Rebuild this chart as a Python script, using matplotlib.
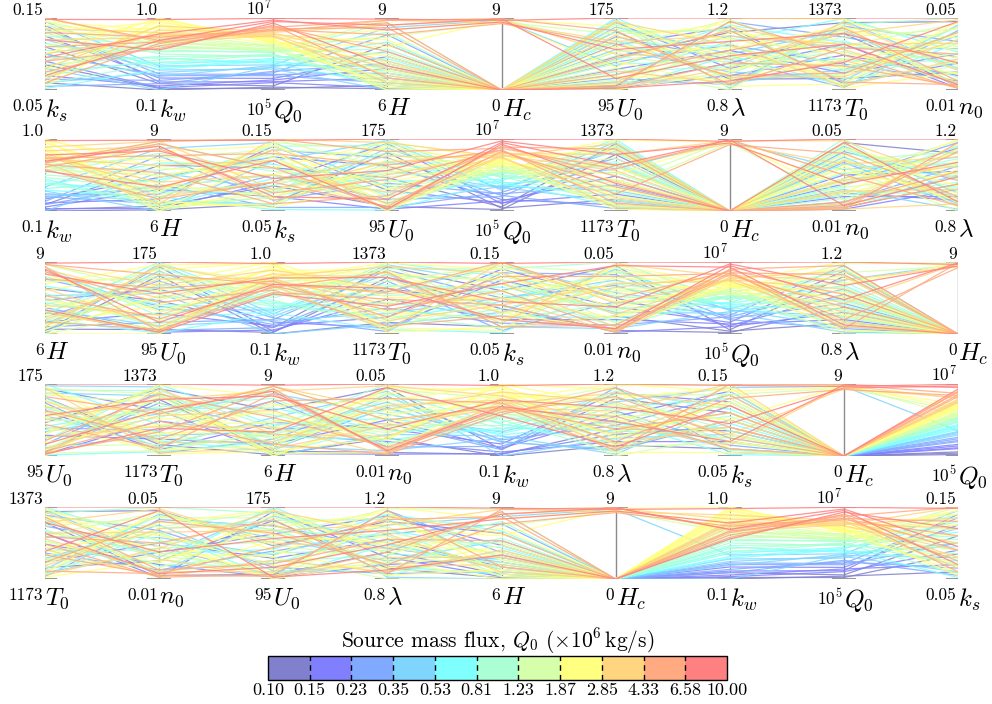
import numpy as np
import matplotlib
matplotlib.use("Agg")
import matplotlib.pyplot as plt
from matplotlib.colors import ListedColormap, BoundaryNorm
import matplotlib.colorbar as mcolorbar

plt.rcParams['font.family'] = 'cmr10'
plt.rcParams['mathtext.fontset'] = 'cm'
plt.rcParams['axes.formatter.use_mathtext'] = True

# samples (one entry per line), Q0 in 10^6 kg/s
q0 = [0.11, 0.13, 0.12, 0.17, 0.19, 0.21, 0.16, 0.25, 0.30, 0.27, 0.33,
      0.38, 0.45, 0.50, 0.42, 0.48, 0.60, 0.70, 0.55, 0.75, 0.65,
      0.85, 1.00, 1.10, 0.90, 1.20, 0.95, 1.15,
      1.30, 1.50, 1.40, 1.70, 1.80, 1.35, 1.60, 1.25,
      2.00, 2.20, 2.50, 2.70, 1.95, 2.40, 2.10, 2.60, 2.30, 2.80,
      3.00, 3.50, 4.00, 3.20, 3.80, 4.20, 3.30,
      4.50, 5.00, 5.50, 6.00, 4.80, 6.30,
      9.80, 8.00, 7.20, 8.80]
ks = [0.085, 0.11, 0.06, 0.14, 0.07, 0.125, 0.09, 0.10, 0.065, 0.135, 0.055,
      0.12, 0.08, 0.145, 0.06, 0.10, 0.075, 0.13, 0.095, 0.115, 0.052,
      0.14, 0.07, 0.11, 0.085, 0.125, 0.058, 0.105,
      0.15, 0.068, 0.12, 0.09, 0.135, 0.078, 0.10, 0.145,
      0.06, 0.13, 0.08, 0.11, 0.145, 0.055, 0.10, 0.125, 0.07, 0.14,
      0.09, 0.12, 0.065, 0.15, 0.10, 0.08, 0.135,
      0.11, 0.075, 0.15, 0.06, 0.13, 0.09,
      0.148, 0.07, 0.12, 0.095]
kw = [0.12, 0.18, 0.10, 0.20, 0.15, 0.25, 0.13, 0.28, 0.22, 0.30, 0.18,
      0.35, 0.10, 0.40, 0.32, 0.27, 0.45, 0.38, 0.50, 0.42, 0.36,
      0.55, 0.48, 0.60, 0.52, 0.65, 0.44, 0.58,
      0.70, 0.75, 0.62, 0.82, 0.68, 0.72, 0.78, 0.66,
      1.00, 0.95, 0.90, 0.98, 0.85, 0.92, 1.00, 0.88, 0.96, 0.80,
      0.80, 0.75, 0.85, 0.70, 0.78, 0.90, 0.82,
      0.70, 0.65, 0.72, 0.68, 0.76, 0.62,
      0.98, 0.72, 0.60, 0.80]
H = [6.2, 7.9, 6.05, 6.5, 6.9, 7.4, 6.1, 6.3, 8.3, 6.7, 7.1,
     6.0, 7.6, 8.6, 6.4, 7.0, 6.8, 7.3, 6.2, 8.0, 6.6,
     7.2, 6.1, 8.8, 6.9, 7.7, 6.4, 8.4,
     8.9, 6.3, 7.5, 6.7, 8.2, 6.0, 7.0, 6.5,
     6.2, 7.4, 6.1, 8.1, 6.8, 6.4, 7.8, 6.0, 7.1, 8.5,
     6.6, 7.9, 8.7, 6.3, 7.2, 8.9, 6.9,
     8.8, 8.6, 8.9, 7.6, 8.3, 6.5,
     8.95, 8.7, 7.0, 8.5]
Hc = [0, 0, 0, 0, 0, 0, 0, 0, 0, 0, 0,
      0, 0, 8.7, 0, 0, 0, 0, 0, 0, 0,
      0, 0, 0, 0, 0, 0, 0,
      8.9, 0, 0, 0, 8.5, 0, 0, 0,
      0, 0, 0, 0, 0, 0, 8.8, 0, 0, 8.6,
      0, 0, 8.8, 0, 0, 8.4, 0,
      0, 0, 8.9, 0, 8.3, 0,
      8.7, 8.9, 0, 8.5]
U0 = [100, 132, 160, 118, 97, 145, 170, 108, 126, 154, 99,
      173, 140, 122, 165, 104, 175, 112, 150, 128, 96,
      168, 137, 115, 160, 102, 148, 124,
      142, 170, 106, 133, 157, 119, 98, 163,
      152, 110, 138, 172, 101, 127, 166, 95, 144, 120,
      156, 103, 135, 171, 116, 149, 97,
      98, 130, 161, 112, 146, 100,
      175, 108, 97, 140]
lam = [0.95, 1.12, 0.86, 1.02, 0.88, 1.15, 0.92, 0.83, 1.05, 0.97, 1.18,
       0.81, 0.90, 1.10, 1.00, 0.84, 0.94, 1.07, 0.87, 1.16, 0.99,
       0.82, 1.09, 0.93, 1.13, 0.89, 1.04, 0.96,
       1.19, 0.85, 1.01, 0.91, 1.14, 0.80, 1.06, 0.98,
       1.17, 0.86, 1.03, 0.94, 1.12, 0.82, 1.08, 0.90, 1.00, 1.20,
       0.87, 1.15, 0.97, 1.05, 0.84, 1.10, 0.92,
       0.95, 1.13, 0.83, 1.02, 0.88, 1.18,
       1.20, 0.99, 0.85, 1.07]
T0 = [1330, 1360, 1205, 1220, 1270, 1190, 1300, 1350, 1245, 1180, 1320,
      1365, 1200, 1290, 1340, 1230, 1260, 1372, 1215, 1305, 1185,
      1355, 1240, 1280, 1195, 1335, 1225, 1310,
      1250, 1345, 1205, 1295, 1230, 1365, 1188, 1320,
      1178, 1260, 1350, 1215, 1300, 1190, 1275, 1340, 1235, 1370,
      1210, 1285, 1330, 1183, 1255, 1300, 1360,
      1240, 1195, 1290, 1345, 1220, 1270,
      1373, 1300, 1250, 1330]
n0 = [0.012, 0.048, 0.020, 0.030, 0.018, 0.025, 0.011, 0.037, 0.015, 0.043, 0.028,
      0.022, 0.046, 0.033, 0.013, 0.040, 0.019, 0.031, 0.045, 0.024, 0.036,
      0.050, 0.027, 0.014, 0.038, 0.021, 0.042, 0.017,
      0.030, 0.039, 0.023, 0.047, 0.016, 0.034, 0.026, 0.044,
      0.020, 0.035, 0.012, 0.041, 0.028, 0.048, 0.019, 0.032, 0.045, 0.024,
      0.038, 0.014, 0.049, 0.027, 0.011, 0.036, 0.021,
      0.012, 0.013, 0.030, 0.015, 0.042, 0.011,
      0.050, 0.013, 0.048, 0.025]

data = {'ks': ks, 'kw': kw, 'Q0': q0, 'H': H, 'Hc': Hc,
        'U0': U0, 'lam': lam, 'T0': T0, 'n0': n0}

# axis ranges, labels
ranges = {'ks': (0.05, 0.15), 'kw': (0.1, 1.0), 'Q0': (0.1, 10.0), 'H': (6, 9),
          'Hc': (0, 9), 'U0': (95, 175), 'lam': (0.8, 1.2), 'T0': (1173, 1373),
          'n0': (0.01, 0.05)}
top_labels = {'ks': '0.15', 'kw': '1.0', 'Q0': '$10^7$', 'H': '9', 'Hc': '9',
              'U0': '175', 'lam': '1.2', 'T0': '1373', 'n0': '0.05'}
bot_labels = {'ks': '0.05', 'kw': '0.1', 'Q0': '$10^5$', 'H': '6', 'Hc': '0',
              'U0': '95', 'lam': '0.8', 'T0': '1173', 'n0': '0.01'}
names = {'ks': '$k_s$', 'kw': '$k_w$', 'Q0': '$Q_0$', 'H': '$H$', 'Hc': '$H_c$',
         'U0': '$U_0$', 'lam': r'$\lambda$', 'T0': '$T_0$', 'n0': '$n_0$'}

orders = [
    ['ks', 'kw', 'Q0', 'H', 'Hc', 'U0', 'lam', 'T0', 'n0'],
    ['kw', 'H', 'ks', 'U0', 'Q0', 'T0', 'Hc', 'n0', 'lam'],
    ['H', 'U0', 'kw', 'T0', 'ks', 'n0', 'Q0', 'lam', 'Hc'],
    ['U0', 'T0', 'H', 'n0', 'kw', 'lam', 'ks', 'Hc', 'Q0'],
    ['T0', 'n0', 'U0', 'lam', 'H', 'Hc', 'kw', 'Q0', 'ks'],
]

cbar_bounds = [0.10, 0.15, 0.23, 0.35, 0.53, 0.81, 1.23, 1.87, 2.85, 4.33, 6.58, 10.00]
base_colors = [(0.0, 0.0, 0.6), (0.0, 0.0, 1.0), (0.0, 0.33, 1.0), (0.0, 0.67, 1.0),
               (0.0, 1.0, 1.0), (0.33, 1.0, 0.67), (0.67, 1.0, 0.33), (1.0, 1.0, 0.0),
               (1.0, 0.67, 0.0), (1.0, 0.33, 0.0), (1.0, 0.0, 0.0)]
# pale (50% on white) versions
pale = [tuple(0.5 + 0.5 * c for c in col) for col in base_colors]
cmap = ListedColormap(pale)
edges = np.logspace(-1, 1, 12)
norm = BoundaryNorm(edges, cmap.N)


def scaled(key):
    v = np.array(data[key], dtype=float)
    lo, hi = ranges[key]
    if key == 'Q0':
        return (np.log10(v) - np.log10(lo)) / (np.log10(hi) - np.log10(lo))
    return (v - lo) / (hi - lo)


W, Hfig = 992, 704
fig = plt.figure(figsize=(W / 100, Hfig / 100), dpi=100)
panel_px = [(18, 90), (139, 211), (262, 334), (384, 456), (507, 579)]
left_px, right_px = 45, 958
order_idx = np.argsort(q0)
tick_half = 11 / ((right_px - left_px) / 8)

for order, (top, bot) in zip(orders, panel_px):
    ax = fig.add_axes([left_px / W, 1 - bot / Hfig, (right_px - left_px) / W, (bot - top) / Hfig])
    ax.set_xlim(0, 8)
    ax.set_ylim(0, 1)
    ax.axis('off')
    ys = np.array([scaled(k) for k in order])
    for i in order_idx:
        ax.plot(range(9), ys[:, i], color=cmap(norm(q0[i])), lw=0.9, alpha=0.85, zorder=2)
    for j, k in enumerate(order):
        ls = '-' if k in ('Hc', 'Q0') else (0, (1.5, 1.5))
        ax.plot([j, j], [0, 1], color='0.55', lw=1.0 if ls == '-' else 0.8, ls=ls, zorder=1)
        for yy in (0, 1):
            ax.plot([j - tick_half, j + tick_half], [yy, yy], color='0.6', lw=1.5, zorder=1)
        ax.annotate(top_labels[k], (j, 1), xytext=(-1, 2.2), textcoords='offset points',
                    ha='right', va='baseline', fontsize=12.5, annotation_clip=False)
        ax.annotate(bot_labels[k], (j, 0), xytext=(-1, -6), textcoords='offset points',
                    ha='right', va='top', fontsize=12.5, annotation_clip=False)
        ax.annotate(names[k], (j, 0), xytext=(0, -5.5), textcoords='offset points',
                    ha='left', va='top', fontsize=18, annotation_clip=False)

cax = fig.add_axes([268 / W, 1 - 680 / Hfig, 459 / W, 24 / Hfig])
cb = mcolorbar.ColorbarBase(cax, cmap=cmap, norm=norm, orientation='horizontal',
                            spacing='uniform', ticks=edges, drawedges=True)
cb.set_ticklabels(['%.2f' % b for b in cbar_bounds])
cb.dividers.set_linestyle((0, (4, 3)))
cb.dividers.set_color('k')
cb.dividers.set_linewidth(1.0)
cb.outline.set_linewidth(1.0)
cax.tick_params(length=0, labelsize=13, pad=2)
cax.set_title(r'Source mass flux, $Q_0$ ($\times10^6\,$kg/s)', fontsize=15.5, pad=6)

fig.savefig('out.png', dpi=100)
